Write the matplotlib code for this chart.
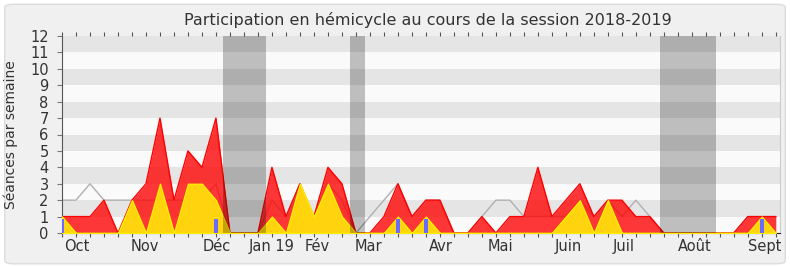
import matplotlib
matplotlib.use("Agg")
import matplotlib.pyplot as plt
from matplotlib.patches import FancyBboxPatch

# weekly values, session 2018-2019
weeks = list(range(52))
presence = [1, 1, 1, 2, 0, 2, 3, 7, 2, 5, 4, 7, 0, 0, 0, 4, 1, 3, 1, 4, 3, 0,
            0, 1, 3, 1, 2, 2, 0, 0, 1, 0, 1, 1, 4, 1, 2, 3, 1, 2, 2, 1, 1, 0,
            0, 0, 0, 0, 0, 1, 1, 1]
commission = [1, 0, 0, 0, 0, 2, 0, 3, 0, 3, 3, 2, 0, 0, 0, 1, 0, 3, 1, 3, 1, 0,
              0, 0, 1, 0, 1, 0, 0, 0, 0, 0, 0, 0, 0, 0, 1, 2, 0, 2, 0, 0, 0, 0,
              0, 0, 0, 0, 0, 0, 1, 0]
mediane = [2, 2, 3, 2, 2, 2, 2, 2, 2, 2, 2, 3, 0, 0, 0, 2, 1, 3, 1, 3, 2, 0,
           1, 2, 3, 1, 2, 2, 0, 0, 1, 2, 2, 1, 1, 1, 1, 2, 1, 2, 1, 2, 1, 0,
           0, 0, 0, 0, 0, 1, 1, 1]
question_weeks = [0, 11, 24, 26, 50]
question_vals = [0.85, 0.85, 0.85, 0.85, 0.85]

vacances = [(11.5, 14.57), (20.57, 21.64), (42.7, 46.75)]

mois = ["Oct", "Nov", "Déc", "Jan 19", "Fév", "Mar", "Avr", "Mai", "Juin",
        "Juil", "Août", "Sept"]
mois_pos = [1.07, 5.93, 11.07, 15.0, 18.2, 21.9, 27.07, 31.36, 36.14,
            40.1, 45.2, 50.2]

fig = plt.figure(figsize=(7.9, 2.67), dpi=100)
fig.patch.set_facecolor("white")
fig.patches.append(FancyBboxPatch((0.006, 0.012), 0.988, 0.972,
                                  boxstyle="round,pad=0,rounding_size=0.012",
                                  transform=fig.transFigure, facecolor="#f0f0f0",
                                  edgecolor="#dcdcdc", lw=1, zorder=-10))

ax = fig.add_axes([62 / 790, 34 / 267, 718 / 790, 197 / 267])
ax.set_facecolor("#fafafa")

# alternating horizontal stripes
for k in range(12):
    ax.axhspan(k, k + 1, color="#e5e5e5" if k % 2 else "#fafafa", lw=0, zorder=0)

ax.plot(weeks, mediane, color="#b0b0b0", lw=1, zorder=1)
ax.fill_between(weeks, presence, color="#ff0000", alpha=0.78, lw=0, zorder=2)
ax.plot(weeks, presence, color="#ff0000", lw=1, zorder=2)
ax.fill_between(weeks, commission, facecolor="#ffd40f", edgecolor="#ffee00",
                lw=1, zorder=3)
ax.bar(question_weeks, question_vals, width=0.3, color="#6b6bff", zorder=4)

# vacances parlementaires
for a, b in vacances:
    ax.axvspan(a, b, color="black", alpha=0.24, lw=0, zorder=5)

ax.set_xlim(0, 51.3)
ax.set_ylim(0, 12)
ax.set_yticks(range(13))
ax.xaxis.remove_overlapping_locs = False
ax.set_xticks(weeks)
ax.set_xticklabels([])
ax.set_xticks(mois_pos, minor=True)
ax.set_xticklabels(mois, minor=True)

ax.tick_params(axis="y", length=3.6, color="#777777", labelsize=10.5,
               labelcolor="#333333", pad=6)
ax.tick_params(axis="x", which="major", length=3, color="#555555",
               top=True, direction="out")
ax.tick_params(axis="x", which="minor", length=0, labelsize=10.5,
               labelcolor="#333333", pad=4)

ax.spines["top"].set_visible(False)
ax.spines["right"].set_color("#cccccc")
ax.spines["left"].set_color("#555555")
ax.spines["bottom"].set_color("#222222")

ax.set_ylabel("Séances par semaine", fontsize=10, color="#333333")
ax.yaxis.set_label_coords(-0.061, 0.5)
fig.text(0.542, 0.925, "Participation en hémicycle au cours de la session 2018-2019",
         ha="center", va="center", fontsize=11.5, color="#333333")

fig.savefig("out.png", dpi=100, facecolor=fig.get_facecolor())
